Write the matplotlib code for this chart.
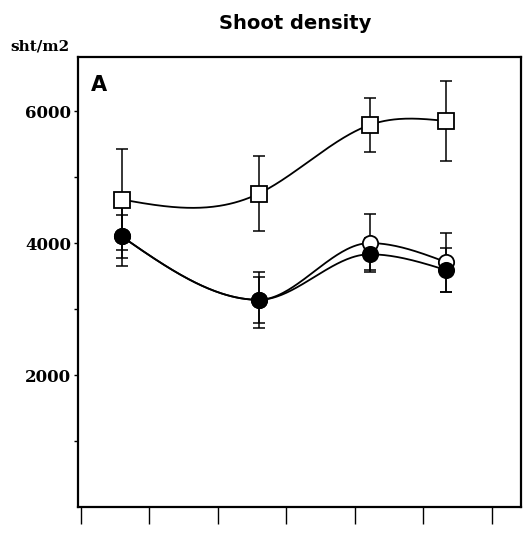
import numpy as np
import matplotlib
matplotlib.use("Agg")
import matplotlib.pyplot as plt

# Sampling times and treatment means (shoots per m2)
x_time = [0.6, 2.6, 4.22, 5.34]
square_vals = [4660, 4750, 5790, 5850]
square_err = [760, 570, 410, 600]
open_vals = [4100, 3140, 4000, 3710]
open_err = [320, 420, 440, 450]
filled_vals = [4100, 3140, 3830, 3590]
filled_err = [450, 350, 240, 330]

y_ticks = [2000, 4000, 6000]
y_minor = [1000, 3000, 5000]
x_ticks = [0, 1, 2, 3, 4, 5, 6]


def hermite_eval(x, y, d, n=200):
    x = np.asarray(x, float)
    y = np.asarray(y, float)
    xs = np.linspace(x[0], x[-1], n)
    ys = np.empty_like(xs)
    for k, t in enumerate(xs):
        i = min(np.searchsorted(x, t, side="right") - 1, len(x) - 2)
        h = x[i + 1] - x[i]
        s = (t - x[i]) / h
        h00 = 2 * s**3 - 3 * s**2 + 1
        h10 = s**3 - 2 * s**2 + s
        h01 = -2 * s**3 + 3 * s**2
        h11 = s**3 - s**2
        ys[k] = h00 * y[i] + h10 * h * d[i] + h01 * y[i + 1] + h11 * h * d[i + 1]
    return xs, ys


def natural_spline(x, y):
    x = np.asarray(x, float)
    y = np.asarray(y, float)
    m = len(x)
    h = np.diff(x)
    A = np.zeros((m, m))
    b = np.zeros(m)
    A[0, 0] = A[-1, -1] = 1
    for i in range(1, m - 1):
        A[i, i - 1] = h[i - 1]
        A[i, i] = 2 * (h[i - 1] + h[i])
        A[i, i + 1] = h[i]
        b[i] = 6 * ((y[i + 1] - y[i]) / h[i] - (y[i] - y[i - 1]) / h[i - 1])
    M = np.linalg.solve(A, b)
    d = np.empty(m)
    for i in range(m - 1):
        d[i] = (y[i + 1] - y[i]) / h[i] - h[i] * (2 * M[i] + M[i + 1]) / 6
    d[-1] = (y[-1] - y[-2]) / h[-1] + h[-1] * (M[-2] + 2 * M[-1]) / 6
    return hermite_eval(x, y, d)


def pchip(x, y):
    # monotone interior slopes, free (zero-curvature) ends
    x = np.asarray(x, float)
    y = np.asarray(y, float)
    h = np.diff(x)
    delta = np.diff(y) / h
    m = len(x)
    d = np.zeros(m)
    for i in range(1, m - 1):
        if delta[i - 1] * delta[i] > 0:
            w1 = 2 * h[i] + h[i - 1]
            w2 = h[i] + 2 * h[i - 1]
            d[i] = (w1 + w2) / (w1 / delta[i - 1] + w2 / delta[i])
    d[0] = (3 * delta[0] - d[1]) / 2
    d[-1] = (3 * delta[-1] - d[-2]) / 2
    return hermite_eval(x, y, d)


fig = plt.figure(figsize=(5.28, 5.33), dpi=100)
ax = fig.add_axes([0.1477, 0.0488, 0.8390, 0.8442])

series = [
    (square_vals, square_err, "s", "white", natural_spline),
    (open_vals, open_err, "o", "white", pchip),
    (filled_vals, filled_err, "o", "black", pchip),
]
for vals, errs, mk, fc, curve in series:
    xs, ys = curve(x_time, vals)
    ax.plot(xs, ys, color="black", lw=1.3, zorder=2)
    ax.errorbar(x_time, vals, yerr=errs, fmt="none", ecolor="black",
                elinewidth=1.1, capsize=4, capthick=1.1, zorder=3)
    ax.plot(x_time, vals, linestyle="none", marker=mk, markersize=11,
            markerfacecolor=fc, markeredgecolor="black", markeredgewidth=1.3,
            zorder=4)

ax.set_xlim(-0.04, 6.43)
ax.set_ylim(0, 6820)

ax.set_xticks(x_ticks)
ax.set_xticklabels([])
ax.tick_params(axis="x", direction="out", length=12, width=1.0)

ax.set_yticks(y_ticks)
ax.set_yticks(y_minor, minor=True)
ax.set_yticklabels([str(v) for v in y_ticks], fontfamily="DejaVu Serif",
                   fontweight="bold", fontsize=12)
ax.tick_params(axis="y", which="both", direction="out", length=3, width=1.0, pad=2)

for s in ax.spines.values():
    s.set_linewidth(1.6)

ax.text(0.03, 0.96, "A", transform=ax.transAxes, fontsize=15,
        fontweight="bold", ha="left", va="top", family="DejaVu Sans")
fig.text(0.56, 0.955, "Shoot density", fontsize=14, fontweight="bold",
         ha="center", va="center", family="DejaVu Sans")
fig.text(0.02, 0.912, "sht/m2", fontsize=11, fontweight="bold",
         ha="left", va="center", family="DejaVu Serif")

fig.savefig("out.png", dpi=100)
